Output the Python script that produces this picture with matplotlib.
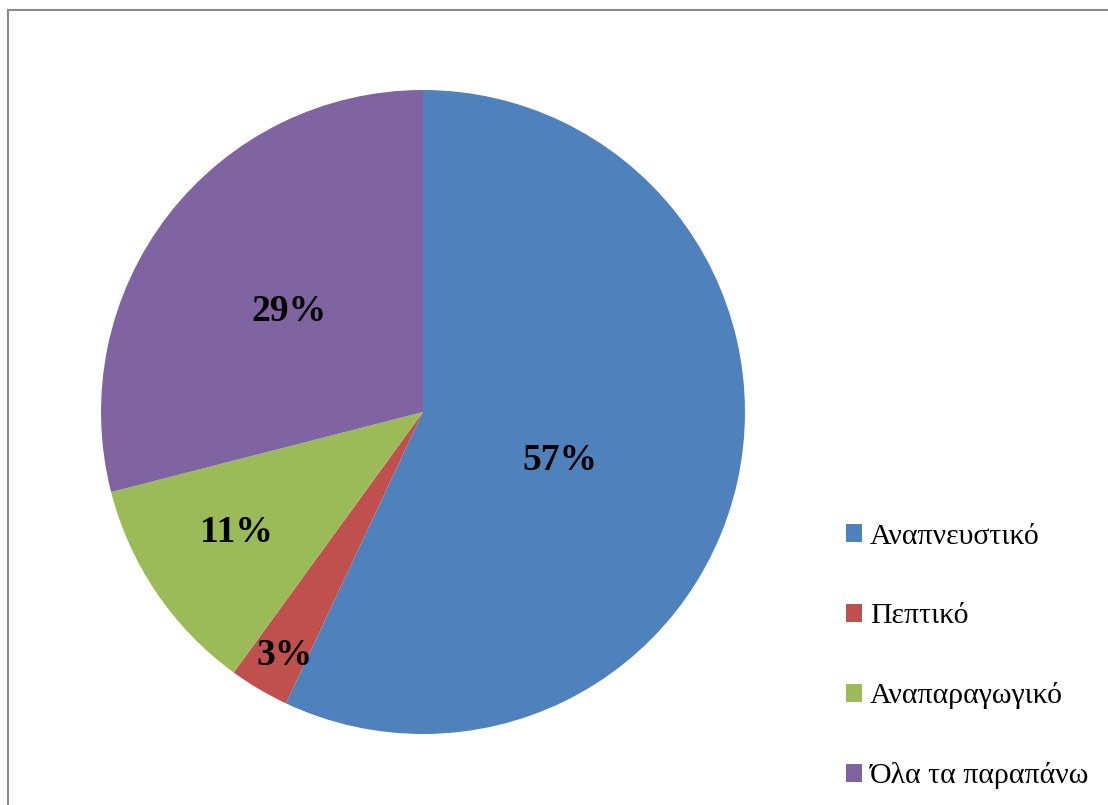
import numpy as np
import matplotlib.pyplot as plt
from matplotlib.patches import Patch
from matplotlib.lines import Line2D

categories = ['Αναπνευστικό', 'Πεπτικό', 'Αναπαραγωγικό', 'Όλα τα παραπάνω']
values = [57, 3, 11, 29]
colors = ['#4F81BD', '#C0504D', '#9BBB59', '#8064A2']

# where each percentage sits inside its wedge (fraction of radius, angle nudge)
label_r = [0.45, 0.87, 0.69, 0.52]
label_nudge = [-7, 1, -1.5, 1]

W, H = 1108, 805
plt.rcParams['font.family'] = ['Liberation Serif', 'DejaVu Serif']
fig = plt.figure(figsize=(W / 100, H / 100), dpi=100)

cx, cy, R = 423, 412, 322
ax = fig.add_axes([(cx - R) / W, (H - cy - R) / H, 2 * R / W, 2 * R / H])
wedges, _ = ax.pie(values, colors=colors, startangle=90, counterclock=False,
                   radius=1, wedgeprops=dict(linewidth=0))
ax.set_xlim(-1, 1)
ax.set_ylim(-1, 1)

for w, v, r, d in zip(wedges, values, label_r, label_nudge):
    ang = np.deg2rad((w.theta1 + w.theta2) / 2 + d)
    ax.text(r * np.cos(ang), r * np.sin(ang), f'{v}%', ha='center', va='center',
            fontsize=27, fontweight='bold', color='black')

handles = [Patch(facecolor=c, edgecolor='none') for c in colors]
fig.legend(handles, categories, loc='upper left', bbox_to_anchor=(846 / W, 1 - 524 / H),
           frameon=False, fontsize=21.5, handlelength=0.55, handleheight=0.55,
           handletextpad=0.25, labelspacing=1.78, borderpad=0, borderaxespad=0)

# outer chart border
fx, fy = 8 / W, 1 - 10.5 / H
fig.add_artist(Line2D([fx, 1.01], [fy, fy], color='#8a8a8a', lw=1.5, transform=fig.transFigure))
fig.add_artist(Line2D([fx, fx], [-0.01, fy], color='#8a8a8a', lw=1.5, transform=fig.transFigure))

fig.savefig('out.png', dpi=100)
